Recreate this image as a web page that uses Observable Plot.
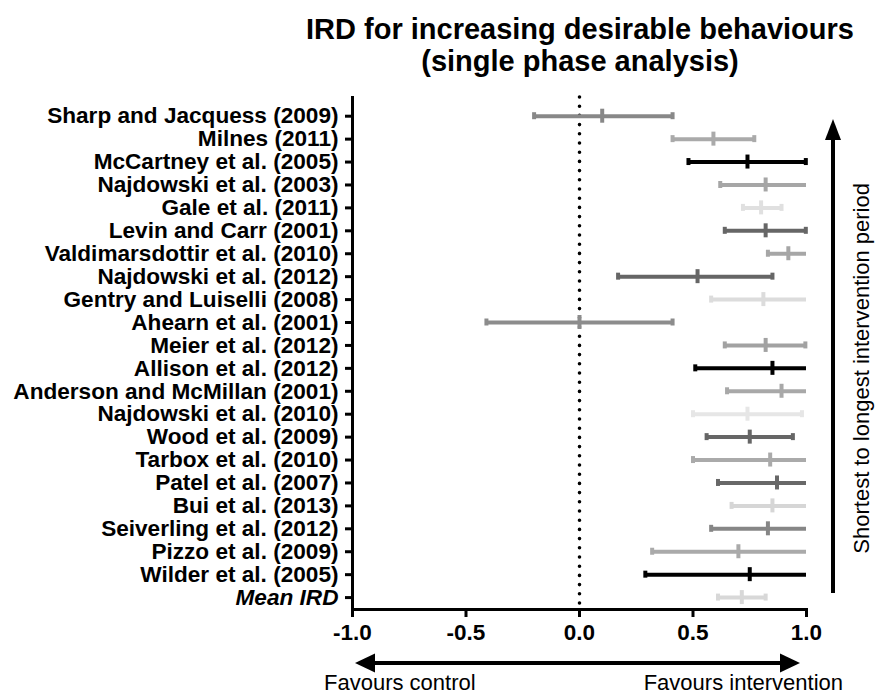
<!DOCTYPE html>
<html><head><meta charset="utf-8">
<script src="https://cdn.jsdelivr.net/npm/d3@7"></script>
<script src="https://cdn.jsdelivr.net/npm/@observablehq/plot@0.6"></script>
<style>
body{margin:0;background:#fff;font-family:"Liberation Sans",Arial,Helvetica,sans-serif;}
#title{position:relative;height:86px;width:877px;}
#title div{position:absolute;left:283px;top:13px;width:594px;text-align:center;font-weight:bold;font-size:29px;line-height:32px;color:#000;}
#chart svg{display:block;}
</style></head><body>
<div id="title"><div>IRD for increasing desirable behaviours<br>(single phase analysis)</div></div>
<div id="chart"></div>
<script>
const studies = [
  "Sharp and Jacquess (2009)", "Milnes (2011)", "McCartney et al. (2005)", "Najdowski et al. (2003)",
  "Gale et al. (2011)", "Levin and Carr (2001)", "Valdimarsdottir et al. (2010)", "Najdowski et al. (2012)",
  "Gentry and Luiselli (2008)", "Ahearn et al. (2001)", "Meier et al. (2012)", "Allison et al. (2012)",
  "Anderson and McMillan (2001)", "Najdowski et al. (2010)", "Wood et al. (2009)", "Tarbox et al. (2010)",
  "Patel et al. (2007)", "Bui et al. (2013)", "Seiverling et al. (2012)", "Pizzo et al. (2009)",
  "Wilder et al. (2005)", "Mean IRD"
];
const ird   = [0.10, 0.59, 0.74, 0.82, 0.80, 0.82, 0.92, 0.52, 0.81, 0.00, 0.82, 0.85, 0.89, 0.74, 0.75, 0.84, 0.87, 0.85, 0.83, 0.70, 0.75, 0.715];
const lower = [-0.20, 0.41, 0.48, 0.62, 0.72, 0.64, 0.83, 0.17, 0.58, -0.41, 0.64, 0.51, 0.65, 0.50, 0.56, 0.50, 0.61, 0.67, 0.58, 0.32, 0.29, 0.61];
const upper = [0.41, 0.77, 0.997, 1.0, 0.89, 0.997, 1.0, 0.85, 1.0, 0.41, 0.995, 1.0, 1.0, 0.98, 0.94, 1.0, 1.0, 1.0, 1.0, 1.0, 1.0, 0.82];
const shades = ["#888888", "#aaaaaa", "#000000", "#a6a6a6", "#e0e0e0", "#666666", "#a6a6a6", "#666666",
  "#dcdcdc", "#8c8c8c", "#a2a2a2", "#000000", "#a8a8a8", "#e6e6e6", "#666666", "#aaaaaa",
  "#686868", "#d6d6d6", "#868686", "#aaaaaa", "#000000", "#d8d8d8"];
const xTicks = [-1, -0.5, 0, 0.5, 1];
const sideLabel = "Shortest to longest intervention period";
const leftNote = "Favours control";
const rightNote = "Favours intervention";

const rows = studies.map((s, i) => ({i, study: s, ird: ird[i], lo: lower[i], hi: upper[i], shade: shades[i]}));
const FONT = "Liberation Sans, Arial, Helvetica, sans-serif";

const chart = Plot.plot({
  width: 877, height: 611,
  marginLeft: 352, marginRight: 71, marginTop: 11, marginBottom: 88,
  x: {domain: [-1, 1]},
  y: {domain: [-0.816, 21.52], reverse: true},
  color: {type: "identity"},
  style: {fontFamily: FONT, background: "#fff", color: "#000", overflow: "visible"},
  marks: [
    Plot.ruleX([0], {stroke: "#000", strokeWidth: 3.6, strokeDasharray: "0 9.2", strokeLinecap: "round"}),
    Plot.ruleY(rows, {y: "i", x1: "lo", x2: "hi", stroke: "shade", strokeWidth: 4}),
    Plot.ruleX(rows, {x: "lo", y1: "i", y2: "i", insetTop: -3.5, insetBottom: -3.5, stroke: "shade", strokeWidth: 4}),
    Plot.ruleX(rows.filter(d => d.hi < 1), {x: "hi", y1: "i", y2: "i", insetTop: -3.5, insetBottom: -3.5, stroke: "shade", strokeWidth: 4}),
    Plot.ruleX(rows, {x: "ird", y1: "i", y2: "i", insetTop: -7, insetBottom: -7, stroke: "shade", strokeWidth: 4}),
    Plot.axisY({ticks: rows.map(d => d.i), tickFormat: i => studies[i], tickSize: 7, tickPadding: 7,
      fontSize: 22.6, fontWeight: "bold", strokeWidth: 3, label: null}),
    Plot.axisX({ticks: xTicks, tickFormat: d => d.toFixed(1), tickSize: 8, tickPadding: 7,
      fontSize: 22.5, fontWeight: "bold", strokeWidth: 3, label: null}),
    Plot.frame({anchor: "left", strokeWidth: 3, strokeLinecap: "square"}),
    Plot.frame({anchor: "bottom", strokeWidth: 3, strokeLinecap: "square"})
  ]
});
document.getElementById("chart").appendChild(chart);

const svg = d3.select(chart);
svg.selectAll("text").attr("fill", "#000");
// italic mean label
svg.selectAll('[aria-label="y-axis tick label"] text')
  .filter(function() { return this.textContent === "Mean IRD"; })
  .attr("font-style", "italic");

const sx = chart.scale("x");
const sy = chart.scale("y");
const xl = sx.apply(-1), xr = sx.apply(1);
const g = svg.append("g");
// bottom double arrow
const ay = 577, hl = 20, hw = 9.5;
g.append("line").attr("x1", xl + 3 + hl - 2).attr("x2", xr - 6 - hl + 2).attr("y1", ay).attr("y2", ay)
  .attr("stroke", "#000").attr("stroke-width", 4);
g.append("path").attr("d", `M${xl + 3},${ay} L${xl + 3 + hl},${ay - hw} L${xl + 3 + hl},${ay + hw} Z`).attr("fill", "#000");
g.append("path").attr("d", `M${xr - 6},${ay} L${xr - 6 - hl},${ay - hw} L${xr - 6 - hl},${ay + hw} Z`).attr("fill", "#000");
g.append("text").attr("x", xl - 28).attr("y", 604).attr("text-anchor", "start").attr("font-size", 22).attr("font-family", FONT).attr("fill", "#000").text(leftNote);
g.append("text").attr("x", xr + 37).attr("y", 604).attr("text-anchor", "end").attr("font-size", 22).attr("font-family", FONT).attr("fill", "#000").text(rightNote);
// vertical arrow
const vx = 833, vTop = 33, vBot = 507;
g.append("line").attr("x1", vx).attr("x2", vx).attr("y1", vTop + 18).attr("y2", vBot)
  .attr("stroke", "#000").attr("stroke-width", 4);
g.append("path").attr("d", `M${vx},${vTop} L${vx - 8},${vTop + 21} L${vx + 8},${vTop + 21} Z`).attr("fill", "#000");
g.append("text").attr("transform", `translate(869,${(sy.apply(0) + sy.apply(21)) / 2 + 12}) rotate(-90)`)
  .attr("text-anchor", "middle").attr("font-size", 22).attr("font-family", FONT).attr("fill", "#000").text(sideLabel);
</script>
</body></html>
